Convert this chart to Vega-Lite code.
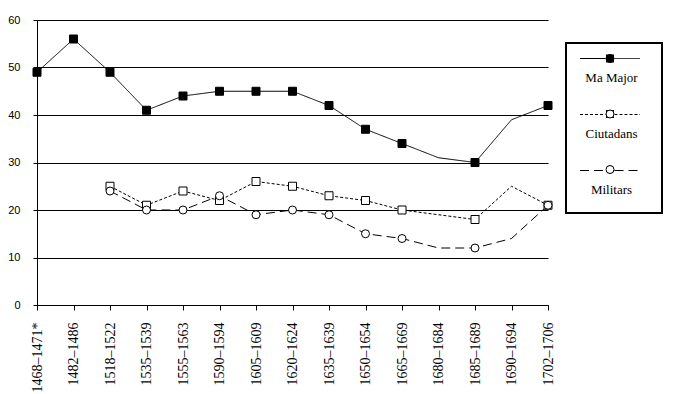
{
  "$schema": "https://vega.github.io/schema/vega-lite/v6.json",
  "width": 511,
  "height": 285,
  "autosize": "none",
  "padding": {"left": 37, "top": 20, "right": 130, "bottom": 89},
  "background": "white",
  "config": {
    "view": {"stroke": null},
    "axis": {"domainColor": "black", "tickColor": "black", "labelColor": "black", "title": null}
  },
  "data": {
    "values": [
      {"period": "1468–1471*", "series": "Ma Major", "value": 49},
      {"period": "1482–1486", "series": "Ma Major", "value": 56},
      {"period": "1518–1522", "series": "Ma Major", "value": 49},
      {"period": "1535–1539", "series": "Ma Major", "value": 41},
      {"period": "1555–1563", "series": "Ma Major", "value": 44},
      {"period": "1590–1594", "series": "Ma Major", "value": 45},
      {"period": "1605–1609", "series": "Ma Major", "value": 45},
      {"period": "1620–1624", "series": "Ma Major", "value": 45},
      {"period": "1635–1639", "series": "Ma Major", "value": 42},
      {"period": "1650–1654", "series": "Ma Major", "value": 37},
      {"period": "1665–1669", "series": "Ma Major", "value": 34},
      {"period": "1680–1684", "series": "Ma Major", "value": 31},
      {"period": "1685–1689", "series": "Ma Major", "value": 30},
      {"period": "1690–1694", "series": "Ma Major", "value": 39},
      {"period": "1702–1706", "series": "Ma Major", "value": 42},
      {"period": "1518–1522", "series": "Ciutadans", "value": 25},
      {"period": "1535–1539", "series": "Ciutadans", "value": 21},
      {"period": "1555–1563", "series": "Ciutadans", "value": 24},
      {"period": "1590–1594", "series": "Ciutadans", "value": 22},
      {"period": "1605–1609", "series": "Ciutadans", "value": 26},
      {"period": "1620–1624", "series": "Ciutadans", "value": 25},
      {"period": "1635–1639", "series": "Ciutadans", "value": 23},
      {"period": "1650–1654", "series": "Ciutadans", "value": 22},
      {"period": "1665–1669", "series": "Ciutadans", "value": 20},
      {"period": "1680–1684", "series": "Ciutadans", "value": 19},
      {"period": "1685–1689", "series": "Ciutadans", "value": 18},
      {"period": "1690–1694", "series": "Ciutadans", "value": 25},
      {"period": "1702–1706", "series": "Ciutadans", "value": 21},
      {"period": "1518–1522", "series": "Militars", "value": 24},
      {"period": "1535–1539", "series": "Militars", "value": 20},
      {"period": "1555–1563", "series": "Militars", "value": 20},
      {"period": "1590–1594", "series": "Militars", "value": 23},
      {"period": "1605–1609", "series": "Militars", "value": 19},
      {"period": "1620–1624", "series": "Militars", "value": 20},
      {"period": "1635–1639", "series": "Militars", "value": 19},
      {"period": "1650–1654", "series": "Militars", "value": 15},
      {"period": "1665–1669", "series": "Militars", "value": 14},
      {"period": "1680–1684", "series": "Militars", "value": 12},
      {"period": "1685–1689", "series": "Militars", "value": 12},
      {"period": "1690–1694", "series": "Militars", "value": 14},
      {"period": "1702–1706", "series": "Militars", "value": 21}
    ]
  },
  "encoding": {
    "x": {
      "field": "period", "type": "ordinal", "sort": null,
      "scale": {"type": "point", "padding": 0},
      "axis": {"labelAngle": -90, "labelFont": "Liberation Sans Narrow", "labelFontSize": 14, "tickSize": 5, "labelPadding": 12, "labelOverlap": false, "grid": false}
    },
    "y": {
      "field": "value", "type": "quantitative",
      "scale": {"domain": [0, 60]},
      "axis": {"values": [0, 10, 20, 30, 40, 50, 60], "grid": true, "gridColor": "black", "gridOpacity": 1, "gridWidth": 1, "tickSize": 4, "labelPadding": 13, "labelFont": "Liberation Sans", "labelFontSize": 11}
    }
  },
  "layer": [
    {
      "mark": {"type": "line", "color": "black", "strokeWidth": 1},
      "encoding": {
        "strokeDash": {
          "field": "series", "type": "nominal",
          "sort": ["Ma Major", "Ciutadans", "Militars"],
          "scale": {"range": [[1, 0], [3, 2], [9, 5]]},
          "legend": {
            "title": null, "orient": "none", "legendX": 529, "legendY": 23, "direction": "vertical",
            "symbolType": "M-30,0H-4.5M4.5,0H30M0,-4.5M0,31M41,0",
            "symbolSize": 4, "symbolStrokeWidth": 1, "symbolStrokeColor": "black", "symbolFillColor": "transparent",
            "symbolOffset": 28.5, "labelOffset": -5,
            "labelFont": "Liberation Serif", "labelFontSize": 13, "labelColor": "black",
            "rowPadding": 16, "padding": 9, "strokeColor": "black",
            "encode": {
              "labels": {"update": {"dy": {"value": 19}, "align": {"value": "center"}}},
              "legend": {"update": {"strokeWidth": {"value": 2}}}
            }
          }
        }
      }
    },
    {
      "transform": [{"filter": {"not": {"field": "period", "oneOf": ["1680–1684", "1690–1694"]}}}],
      "mark": {"type": "point", "filled": true, "size": 64, "stroke": "black", "strokeWidth": 1, "opacity": 1},
      "encoding": {
        "shape": {
          "field": "series", "type": "nominal",
          "sort": ["Ma Major", "Ciutadans", "Militars"],
          "scale": {"range": ["square", "square", "circle"]},
          "legend": {
            "title": null, "orient": "none", "legendX": 529, "legendY": 23, "direction": "vertical",
            "symbolSize": 64, "symbolStrokeWidth": 1, "symbolStrokeColor": "black",
            "symbolOffset": 28.5, "labelOffset": -5, "labelAlign": "center", "labelLimit": 40,
            "labelFont": "Liberation Serif", "labelFontSize": 13, "labelColor": "black", "labelOpacity": 0,
            "rowPadding": 41.5, "padding": 9
          }
        },
        "fill": {
          "field": "series", "type": "nominal",
          "sort": ["Ma Major", "Ciutadans", "Militars"],
          "scale": {"range": ["black", "white", "white"]},
          "legend": {
            "title": null, "orient": "none", "legendX": 529, "legendY": 23, "direction": "vertical",
            "symbolSize": 64, "symbolStrokeWidth": 1, "symbolStrokeColor": "black",
            "symbolOffset": 28.5, "labelOffset": -5, "labelAlign": "center", "labelLimit": 40,
            "labelFont": "Liberation Serif", "labelFontSize": 13, "labelColor": "black", "labelOpacity": 0,
            "rowPadding": 41.5, "padding": 9
          }
        }
      }
    }
  ]
}
